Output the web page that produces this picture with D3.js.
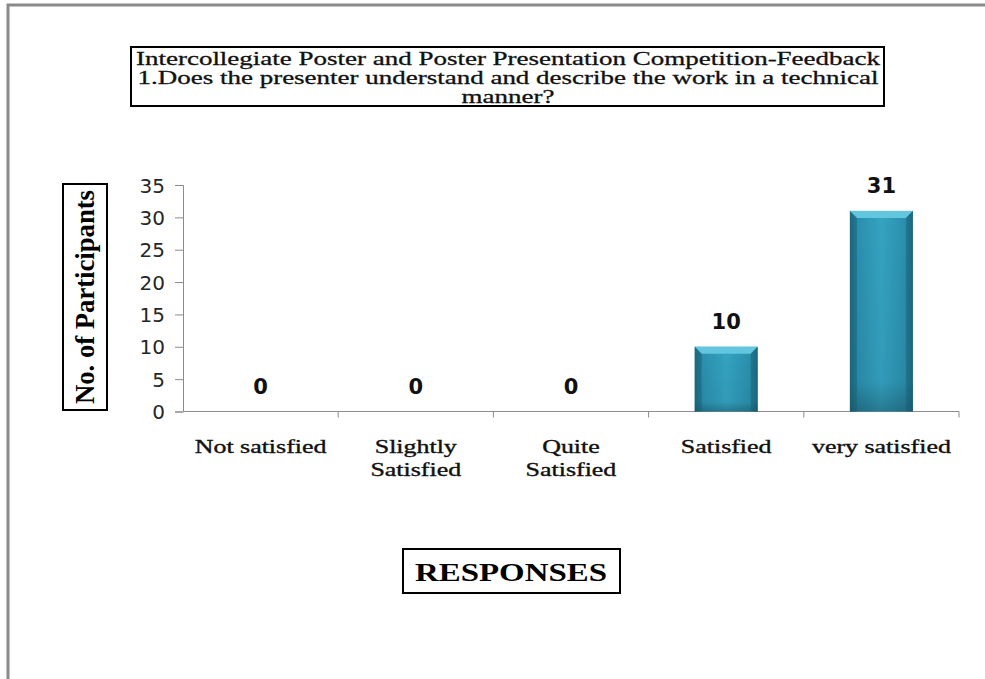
<!DOCTYPE html>
<meta charset="utf-8">
<style type="text/css">
body { margin: 0; background: #fff; }
svg { display: block; }
.tick text { font-family: "DejaVu Sans", sans-serif; font-size: 20px; fill: #262626; }
.domain, .tick line { stroke: #8c8c8c; }
.cat { font-family: "Liberation Serif", serif; font-size: 18px; fill: #111; stroke: #111; stroke-width: 0.35; }
.val { font-family: "DejaVu Sans", sans-serif; font-size: 21px; font-weight: bold; fill: #111; }
.ttl { font-family: "Liberation Serif", serif; font-size: 19px; fill: #111; stroke: #111; stroke-width: 0.3; }
</style>
<svg width="985" height="679"></svg>
<script src="https://cdn.jsdelivr.net/npm/d3@7"></script>
<script>

// data
var categories = ["Not satisfied", "Slightly Satisfied", "Quite Satisfied", "Satisfied", "very satisfied"];
var catLines = [["Not satisfied"], ["Slightly", "Satisfied"], ["Quite", "Satisfied"], ["Satisfied"], ["very satisfied"]];
var values = [0, 0, 0, 10, 31];
var yTicks = [0, 5, 10, 15, 20, 25, 30, 35];
var titleLines = ["Intercollegiate Poster and Poster Presentation Competition-Feedback",
                  "1.Does the presenter understand and describe the work in a technical",
                  "manner?"];

var svg = d3.select("svg");

// stretch text horizontally like the original (wide rendering)
function stretch(sel, k) {
  sel.each(function(){
    var w = this.getComputedTextLength();
    d3.select(this).attr("textLength", w * k).attr("lengthAdjust", "spacingAndGlyphs");
  });
}

// outer frame (only top and left edges visible)
svg.append("path")
   .attr("d", "M8,679 V5 H985")
   .attr("fill", "none")
   .attr("stroke", "#8a8a8a")
   .attr("stroke-width", 3);

var x = d3.scaleBand().domain(categories).range([183, 959]).paddingInner(0).paddingOuter(0);
var y = d3.scaleLinear().domain([0, 35]).range([411.5, 185]);

var defs = svg.append("defs");
var grad = defs.append("linearGradient").attr("id", "barGrad")
               .attr("x1", "0").attr("x2", "1").attr("y1", "0").attr("y2", "0");
grad.append("stop").attr("offset", "0").attr("stop-color", "#1c6c84");
grad.append("stop").attr("offset", "0.12").attr("stop-color", "#2a8fad");
grad.append("stop").attr("offset", "0.5").attr("stop-color", "#34a3c2");
grad.append("stop").attr("offset", "0.88").attr("stop-color", "#2a8fad");
grad.append("stop").attr("offset", "1").attr("stop-color", "#1c6c84");
var vgrad = defs.append("linearGradient").attr("id", "shade")
               .attr("x1", "0").attr("x2", "0").attr("y1", "0").attr("y2", "1");
vgrad.append("stop").attr("offset", "0").attr("stop-color", "#000").attr("stop-opacity", 0);
vgrad.append("stop").attr("offset", "0.85").attr("stop-color", "#000").attr("stop-opacity", 0.05);
vgrad.append("stop").attr("offset", "1").attr("stop-color", "#000").attr("stop-opacity", 0.25);

// axes
var yAxis = svg.append("g")
   .attr("transform", "translate(183,0)")
   .call(d3.axisLeft(y).tickValues(yTicks).tickSize(8).tickPadding(10));
yAxis.selectAll(".tick text").attr("dy", "0.36em");

var xAxis = svg.append("g")
   .attr("transform", "translate(0," + y(0) + ")")
   .call(d3.axisBottom(x).tickSize(0).tickFormat(""));
xAxis.select(".domain").attr("d", "M183,0H959");
// category boundary ticks
xAxis.selectAll(".sep").data(d3.range(categories.length)).enter().append("line")
   .attr("class", "sep")
   .attr("x1", function(i){ return x(categories[i]) + x.bandwidth(); })
   .attr("x2", function(i){ return x(categories[i]) + x.bandwidth(); })
   .attr("y1", 0).attr("y2", 6)
   .attr("stroke", "#8c8c8c");

// bars
var bw = 63;
var bars = svg.append("g").selectAll("g").data(values).enter().append("g")
   .attr("transform", function(d, i){ return "translate(" + (x(categories[i]) + x.bandwidth()/2 - bw/2) + ",0)"; });

bars.filter(function(d){ return d > 0; }).each(function(d){
  var g = d3.select(this), top = y(d), h = y(0) - y(d), b = 7;
  g.append("rect").attr("x", 0).attr("y", top).attr("width", bw).attr("height", h).attr("fill", "url(#barGrad)");
  g.append("rect").attr("x", 0).attr("y", top).attr("width", bw).attr("height", h).attr("fill", "url(#shade)");
  g.append("path")
   .attr("d", "M0," + top + "H" + bw + "L" + (bw - b) + "," + (top + b) + "H" + b + "Z")
   .attr("fill", "#62c6df");
  g.append("path")
   .attr("d", "M0," + top + "L" + b + "," + (top + b) + "V" + (top + h) + "H0Z")
   .attr("fill", "#1a6379").attr("opacity", 0.5);
  g.append("path")
   .attr("d", "M" + bw + "," + top + "L" + (bw - b) + "," + (top + b) + "V" + (top + h) + "H" + bw + "Z")
   .attr("fill", "#1a6379").attr("opacity", 0.5);
});

// value labels
svg.append("g").selectAll("text").data(values).enter().append("text")
   .attr("class", "val")
   .attr("text-anchor", "middle")
   .attr("x", function(d, i){ return x(categories[i]) + x.bandwidth()/2; })
   .attr("y", function(d){ return y(d) - 18; })
   .text(function(d){ return d; });

// category labels
var cl = svg.append("g").selectAll("g").data(catLines).enter().append("g");
cl.selectAll("text").data(function(d){ return d; }).enter().append("text")
   .attr("class", "cat")
   .attr("text-anchor", "middle")
   .attr("x", function(){ var i = catLines.indexOf(d3.select(this.parentNode).datum()); return x(categories[i]) + x.bandwidth()/2; })
   .attr("y", function(d, j){ return 453 + j * 23; })
   .text(function(d){ return d; })
   .call(stretch, 1.44);

// title box
svg.append("rect").attr("x", 131).attr("y", 47).attr("width", 753).attr("height", 59)
   .attr("fill", "#fff").attr("stroke", "#000").attr("stroke-width", 2);
svg.append("g").selectAll("text").data(titleLines).enter().append("text")
   .attr("class", "ttl")
   .attr("text-anchor", "middle")
   .attr("x", 508)
   .attr("y", function(d, i){ return 65 + i * 19; })
   .text(function(d){ return d; })
   .call(stretch, 1.42);

// y axis title
svg.append("rect").attr("x", 63).attr("y", 184).attr("width", 44).attr("height", 226)
   .attr("fill", "#fff").attr("stroke", "#000").attr("stroke-width", 2);
svg.append("text")
   .attr("transform", "translate(94,297) rotate(-90)")
   .attr("text-anchor", "middle")
   .attr("textLength", 214)
   .attr("lengthAdjust", "spacingAndGlyphs")
   .style("font-family", "'Liberation Serif', serif")
   .style("font-size", "27px")
   .style("font-weight", "bold")
   .text("No. of Participants");

// x axis title
svg.append("rect").attr("x", 403).attr("y", 549).attr("width", 217).attr("height", 44)
   .attr("fill", "#fff").attr("stroke", "#000").attr("stroke-width", 2);
svg.append("text")
   .attr("x", 511).attr("y", 581)
   .attr("text-anchor", "middle")
   .attr("textLength", 192)
   .attr("lengthAdjust", "spacingAndGlyphs")
   .style("font-family", "'Liberation Serif', serif")
   .style("font-size", "26px")
   .style("font-weight", "bold")
   .text("RESPONSES");

</script>
